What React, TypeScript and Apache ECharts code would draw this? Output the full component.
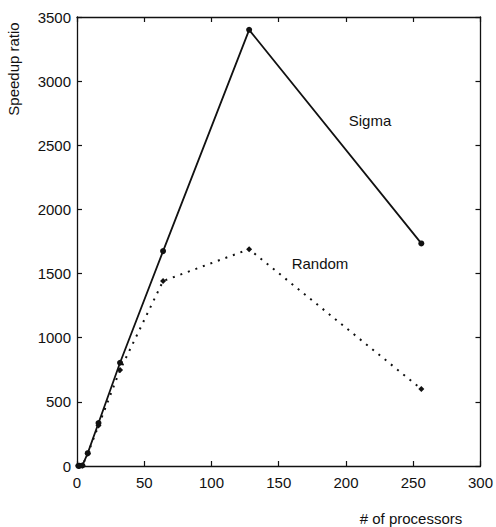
import React, { useEffect, useRef } from "react";
import * as echarts from "echarts";

const processors = [1, 2, 4, 8, 16, 32, 64, 128, 256];
const sigmaSpeedup = [1, 2, 4, 100, 335, 805, 1675, 3400, 1735];
const randomSpeedup = [1, 2, 4, 95, 315, 748, 1442, 1690, 600];
const xTicks = [0, 50, 100, 150, 200, 250, 300];
const yTicks = [0, 500, 1000, 1500, 2000, 2500, 3000, 3500];

const FONT = "Liberation Sans, Arial, Helvetica, sans-serif";

export default function App() {
  const ref = useRef<HTMLDivElement>(null);
  useEffect(() => {
    if (!ref.current) return;
    const chart = echarts.init(ref.current, undefined, { renderer: "svg" });
    const axisLine = { show: true, onZero: false, lineStyle: { color: "#111", width: 1.3 } };
    const tick = { show: true, inside: true, length: 5, lineStyle: { color: "#111", width: 1.2 } };
    const xMin = xTicks[0];
    const xMax = xTicks[xTicks.length - 1];
    const yMin = yTicks[0];
    const yMax = yTicks[yTicks.length - 1];
    const plain = (v: number) => String(v);
    chart.setOption({
      animation: false,
      backgroundColor: "#fff",
      grid: { left: 77, right: 13, top: 17, bottom: 61, containLabel: false },
      xAxis: [
        {
          type: "value", min: xMin, max: xMax, interval: 50, position: "bottom",
          axisLine, axisTick: tick, splitLine: { show: false },
          axisLabel: { color: "#111", fontFamily: FONT, fontSize: 15, margin: 9, formatter: plain },
        },
        {
          type: "value", min: xMin, max: xMax, interval: 50, position: "top",
          axisLine, axisTick: tick, splitLine: { show: false }, axisLabel: { show: false },
        },
      ],
      yAxis: [
        {
          type: "value", min: yMin, max: yMax, interval: 500, position: "left",
          axisLine, axisTick: tick, splitLine: { show: false },
          axisLabel: { color: "#111", fontFamily: FONT, fontSize: 15, margin: 6, formatter: plain },
        },
        {
          type: "value", min: yMin, max: yMax, interval: 500, position: "right",
          axisLine, axisTick: tick, splitLine: { show: false }, axisLabel: { show: false },
        },
      ],
      series: [
        {
          name: "Sigma", type: "line",
          data: processors.map((p, i) => [p, sigmaSpeedup[i]]),
          symbol: "circle", symbolSize: 6,
          itemStyle: { color: "#111" },
          lineStyle: { color: "#111", width: 1.8 },
          z: 3,
        },
        {
          name: "Random", type: "line",
          data: processors.map((p, i) => [p, randomSpeedup[i]]),
          symbol: "diamond", symbolSize: 6,
          itemStyle: { color: "#111" },
          lineStyle: { color: "#111", width: 2, type: [2, 6] },
          z: 2,
        },
      ],
      graphic: [
        {
          type: "text", x: 13, y: 69, rotation: Math.PI / 2,
          style: { text: "Speedup ratio", font: `15px ${FONT}`, fill: "#111", align: "center", verticalAlign: "middle" },
        },
        {
          type: "text", x: 411, y: 518,
          style: { text: "# of processors", font: `15px ${FONT}`, fill: "#111", align: "center", verticalAlign: "middle" },
        },
        {
          type: "text", x: 370, y: 120,
          style: { text: "Sigma", font: `15px ${FONT}`, fill: "#111", align: "center", verticalAlign: "middle" },
        },
        {
          type: "text", x: 320, y: 263,
          style: { text: "Random", font: `15px ${FONT}`, fill: "#111", align: "center", verticalAlign: "middle" },
        },
      ],
    });
    return () => chart.dispose();
  }, []);
  return <div ref={ref} style={{ width: 496, height: 527, position: "absolute", left: 0, top: 0 }} />;
}
